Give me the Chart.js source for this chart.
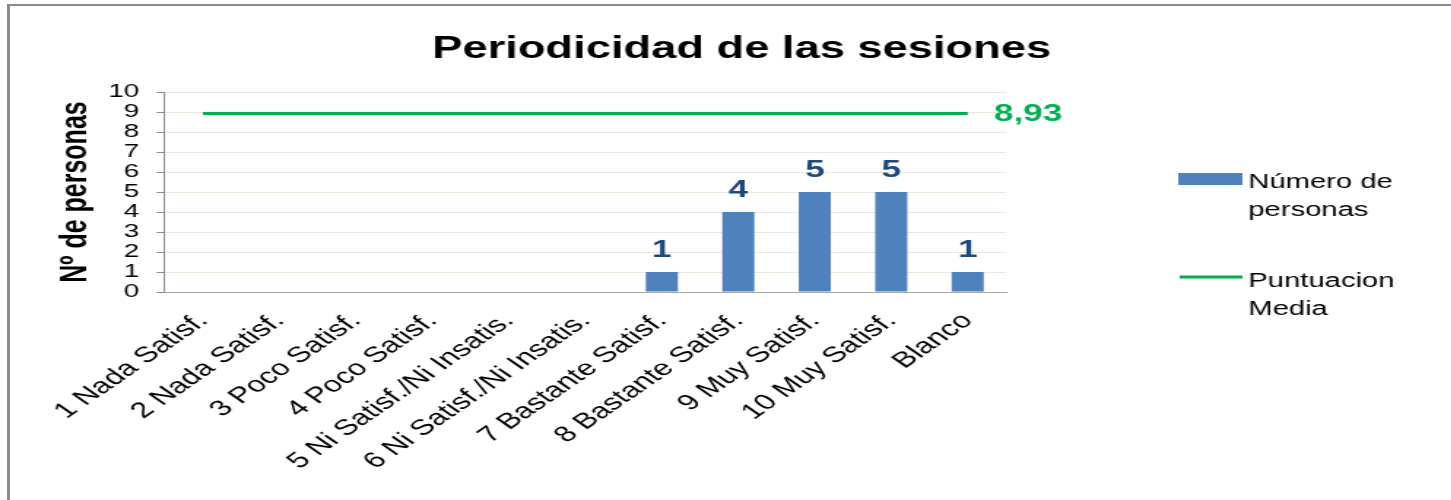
<!DOCTYPE html>
<html>
<head>
<meta charset="utf-8">
<script src="https://cdn.jsdelivr.net/npm/chart.js@4.4.0/dist/chart.umd.min.js"></script>
<style>
html, body { margin: 0; padding: 0; background: #fff; overflow: hidden; }
#frame { position: absolute; left: 7px; top: 4px; width: 1500px; height: 560px;
         border-left: 3px solid #8c8c8c; border-top: 2px solid #8c8c8c; }
/* the source picture is stretched sideways, so the chart is drawn narrow and widened */
#stretch { position: absolute; left: 0; top: 0; width: 994px; height: 500px;
           transform: scaleX(1.46); transform-origin: 0 0; }
</style>
</head>
<body>
<div id="frame"></div>
<div id="stretch"><canvas id="chart"></canvas></div>
<script>
var categories = ["1 Nada Satisf.", "2 Nada Satisf.", "3 Poco Satisf.", "4 Poco Satisf.",
    "5 Ni Satisf./Ni Insatis.", "6 Ni Satisf./Ni Insatis.", "7 Bastante Satisf.",
    "8 Bastante Satisf.", "9 Muy Satisf.", "10 Muy Satisf.", "Blanco"];
var personas = [0, 0, 0, 0, 0, 0, 1, 4, 5, 5, 1];
var media = [8.93, 8.93, 8.93, 8.93, 8.93, 8.93, 8.93, 8.93, 8.93, 8.93, 8.93];
var mediaLabel = "8,93";
var yTicks = [0, 1, 2, 3, 4, 5, 6, 7, 8, 9, 10];
var chartTitle = "Periodicidad de las sesiones";
var yTitle = "Nº de personas";
var legendBar = ["Número de", "personas"];
var legendLine = ["Puntuacion", "Media"];

var FONT = '"Liberation Sans", Arial, sans-serif';
var BAR_COLOR = '#4f81bd';
var LINE_COLOR = '#00b050';

var extrasPlugin = {
    id: 'extras',
    afterDatasetsDraw: function (chart) {
        var ctx = chart.ctx;
        ctx.save();

        // values above the bars (zeros are left out)
        var barMeta = chart.getDatasetMeta(0);
        ctx.font = 'bold 24px ' + FONT;
        ctx.fillStyle = '#1f497d';
        ctx.textAlign = 'center';
        ctx.textBaseline = 'alphabetic';
        barMeta.data.forEach(function (bar, i) {
            if (personas[i] > 0) {
                ctx.fillText(String(personas[i]), bar.x, bar.y - 15);
            }
        });

        // label at the end of the average line
        var lineMeta = chart.getDatasetMeta(1);
        var last = lineMeta.data[lineMeta.data.length - 1];
        ctx.fillStyle = LINE_COLOR;
        ctx.textAlign = 'left';
        ctx.textBaseline = 'middle';
        ctx.fillText(mediaLabel, last.x + 18, last.y + 1);

        ctx.restore();
    },
    afterDraw: function (chart) {
        var ctx = chart.ctx;
        var area = chart.chartArea;
        ctx.save();

        // title
        ctx.font = 'bold 31px ' + FONT;
        ctx.fillStyle = '#000';
        ctx.textAlign = 'center';
        ctx.textBaseline = 'alphabetic';
        ctx.fillText(chartTitle, 508, 58);

        // legend
        var lx = area.right + 118;
        ctx.fillStyle = BAR_COLOR;
        ctx.fillRect(lx, 173, 44, 12);
        ctx.strokeStyle = LINE_COLOR;
        ctx.lineWidth = 3;
        ctx.beginPath();
        ctx.moveTo(lx + 1, 277);
        ctx.lineTo(lx + 44, 277);
        ctx.stroke();

        ctx.font = '20px ' + FONT;
        ctx.fillStyle = '#000';
        ctx.textAlign = 'left';
        ctx.fillText(legendBar[0], lx + 48, 188);
        ctx.fillText(legendBar[1], lx + 48, 216);
        ctx.fillText(legendLine[0], lx + 48, 287);
        ctx.fillText(legendLine[1], lx + 48, 315);

        ctx.restore();
    }
};

var chart = new Chart(document.getElementById('chart'), {
    data: {
        labels: categories,
        datasets: [{
            type: 'bar',
            label: legendBar.join(' '),
            data: personas,
            backgroundColor: BAR_COLOR,
            barPercentage: 0.42,
            categoryPercentage: 1,
            order: 1
        }, {
            type: 'line',
            label: legendLine.join(' '),
            data: media,
            borderColor: LINE_COLOR,
            borderWidth: 3,
            pointRadius: 0,
            fill: false,
            order: 0
        }]
    },
    options: {
        responsive: true,
        maintainAspectRatio: false,
        animation: false,
        layout: { padding: { left: 17, right: 305, top: 92, bottom: 17.5 } },
        plugins: {
            legend: { display: false },
            tooltip: { enabled: false },
            title: { display: false }
        },
        scales: {
            x: {
                grid: { display: false },
                border: { display: true, color: '#a6a6a6', width: 1 },
                ticks: {
                    color: '#000',
                    font: { family: FONT, size: 22 },
                    minRotation: 45,
                    maxRotation: 45,
                    autoSkip: false,
                    padding: 8
                }
            },
            y: {
                min: yTicks[0],
                max: yTicks[yTicks.length - 1],
                afterBuildTicks: function (axis) {
                    axis.ticks = yTicks.map(function (v) { return { value: v }; });
                },
                grid: { color: '#ebe7dc', tickColor: '#8c8c8c', tickLength: 5.5 },
                border: { color: '#8c8c8c', width: 1 },
                ticks: {
                    color: '#000',
                    font: { family: FONT, size: 19 },
                    padding: 12,
                    autoSkip: false
                },
                title: {
                    display: true,
                    text: yTitle,
                    color: '#000',
                    font: { family: FONT, size: 25, weight: 'bold' },
                    padding: { top: 20, bottom: -4.8 }
                }
            }
        }
    },
    plugins: [extrasPlugin]
});
</script>
</body>
</html>
